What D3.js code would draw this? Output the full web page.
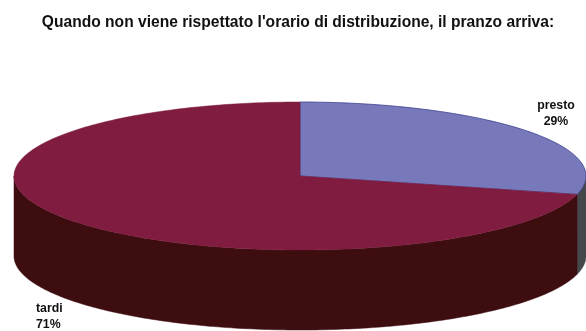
<!DOCTYPE html>
<html>
<head>
<meta charset="utf-8">
<script src="https://cdn.jsdelivr.net/npm/d3@7"></script>
<style>
html, body { margin: 0; padding: 0; background: #fff; overflow: hidden; }
svg { display: block; filter: blur(0.35px); }
text { font-family: "Liberation Sans", Arial, sans-serif; fill: #111; }
</style>
</head>
<body>
<div id="chart"></div>
<script>
const chartTitle = "Quando non viene rispettato l'orario di distribuzione, il pranzo arriva:";
const categories = ["presto", "tardi"];
const values = [29, 71];
const topColors = ["#7779bb", "#7f1c3f"];
const sideColors = ["#45484a", "#3d0d10"];

const width = 586, height = 331;
const cx = 300, cy = 176, rx = 286, ry = 74, depth = 80;

const svg = d3.select("#chart")
	.append("svg")
	.attr("width", width)
	.attr("height", height);

// the pie is a flat unit circle squashed onto the page by these two scales
const xScale = d3.scaleLinear().domain([-1, 1]).range([cx - rx, cx + rx]);
const yScale = d3.scaleLinear().domain([-1, 1]).range([cy - ry, cy + ry]);

const slices = d3.pie().sort(null)(values);

const px = a => xScale(Math.sin(a));
const py = a => yScale(-Math.cos(a));
const line = d3.line().x(d => d[0]).y(d => d[1]);

function arcAngles(a0, a1) {
	const n = Math.max(2, Math.ceil((a1 - a0) * 60));
	return d3.range(n + 1).map(i => a0 + (a1 - a0) * i / n);
}

// side wall, only the part facing the viewer (PI/2 to 3PI/2)
slices.forEach((s, i) => {
	const a0 = Math.max(s.startAngle, Math.PI / 2);
	const a1 = Math.min(s.endAngle, 3 * Math.PI / 2);
	if (a1 <= a0) return;
	const angles = arcAngles(a0, a1);
	const upper = angles.map(a => [px(a), py(a)]);
	const lower = angles.slice().reverse().map(a => [px(a), py(a) + depth]);
	svg.append("path")
		.attr("d", line(upper.concat(lower)) + "Z")
		.attr("fill", sideColors[i])
		.attr("stroke", sideColors[i])
		.attr("stroke-width", 0.5);
});

// top face
slices.forEach((s, i) => {
	const rim = arcAngles(s.startAngle, s.endAngle).map(a => [px(a), py(a)]);
	svg.append("path")
		.attr("d", line([[xScale(0), yScale(0)]].concat(rim)) + "Z")
		.attr("fill", topColors[i])
		.attr("stroke", i === 0 ? "#3d3f8f" : topColors[i])
		.attr("stroke-width", i === 0 ? 0.8 : 0.5);
});

svg.append("text")
	.attr("x", 298)
	.attr("y", 27)
	.attr("text-anchor", "middle")
	.attr("font-size", 15.6)
	.attr("font-weight", "bold")
	.text(chartTitle);

// data labels
const labelSpots = [
	{x: 556, y: 109, anchor: "middle"},
	{x: 36, y: 312, anchor: "start"}
];
categories.forEach((c, i) => {
	const t = svg.append("text")
		.attr("text-anchor", labelSpots[i].anchor)
		.attr("font-size", 12.3)
		.attr("font-weight", "bold");
	t.append("tspan").attr("x", labelSpots[i].x).attr("y", labelSpots[i].y).text(c);
	t.append("tspan").attr("x", labelSpots[i].x).attr("y", labelSpots[i].y + 15.5).text(values[i] + "%");
});
</script>
</body>
</html>
